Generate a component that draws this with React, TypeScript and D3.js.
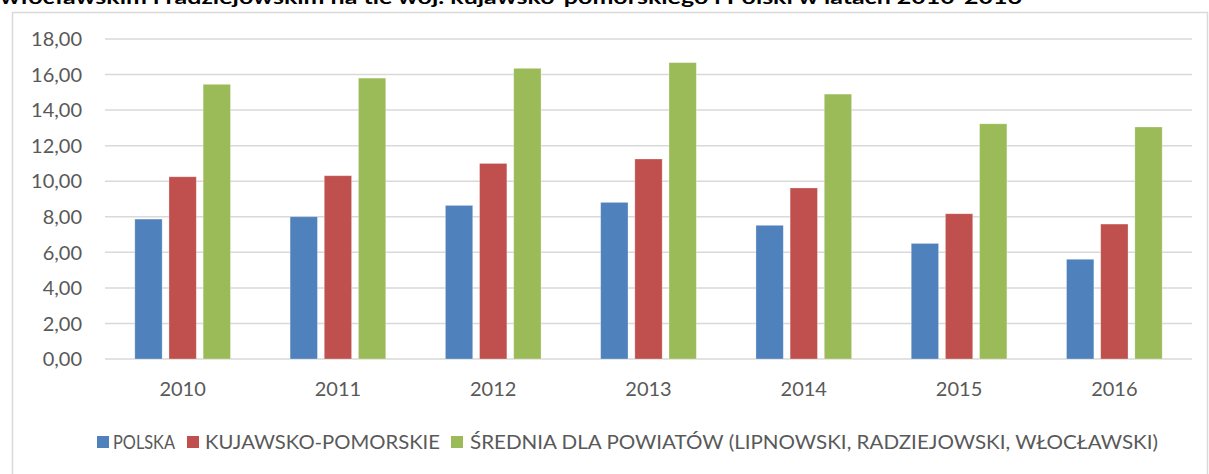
import React from "react";
import * as d3 from "d3";

const years = ["2010", "2011", "2012", "2013", "2014", "2015", "2016"];
const seriesNames = [
  "POLSKA",
  "KUJAWSKO-POMORSKIE",
  "ŚREDNIA DLA POWIATÓW (LIPNOWSKI, RADZIEJOWSKI, WŁOCŁAWSKI)",
];
const polska = [7.87, 8.0, 8.64, 8.81, 7.52, 6.5, 5.61];
const kujawsko = [10.25, 10.31, 11.0, 11.25, 9.62, 8.17, 7.59];
const srednia = [15.45, 15.8, 16.35, 16.67, 14.9, 13.23, 13.05];
const yTicks = [0, 2, 4, 6, 8, 10, 12, 14, 16, 18];
const colors = ["#4f81bd", "#c0504d", "#9bbb59"];
const titleText =
  "włocławskim i radziejowskim na tle woj. kujawsko-pomorskiego i Polski w latach 2010-2016";

const W = 1209;
const H = 474;
const FONT = "Lato, 'Open Sans', sans-serif";

export default function App() {
  const series = [polska, kujawsko, srednia];
  const x0 = d3
    .scaleBand<string>()
    .domain(years)
    .range([105, 1192])
    .paddingInner(0.384)
    .paddingOuter(0.192);
  const x1 = d3
    .scaleBand<number>()
    .domain([0, 1, 2])
    .range([0, x0.bandwidth()])
    .paddingInner(0.2);
  const y = d3.scaleLinear().domain([0, 18]).range([359, 39]);
  const fmt = (v: number) => v.toFixed(2).replace(".", ",");

  // legend layout
  const legendY = 442;
  const legendItems = [
    { sq: 97, tx: 113, len: 62 },
    { sq: 187, tx: 205, len: 235 },
    { sq: 451, tx: 470, len: 688 },
  ];

  return (
    <svg
      width={W}
      height={H}
      style={{ position: "absolute", left: 0, top: 0, background: "#fff" }}
      fontFamily={FONT}
    >
      <rect x={0} y={0} width={W} height={H} fill="#fff" />
      <text
        x={0}
        y={4}
        fontSize={19}
        fontWeight="bold"
        fill="#000"
        textLength={1022}
        lengthAdjust="spacingAndGlyphs"
      >
        {titleText}
      </text>
      <rect
        x={12.5}
        y={12.5}
        width={1195}
        height={480}
        fill="#fff"
        stroke="#d9d9d9"
        strokeWidth={1.5}
      />
      {yTicks.map((t) => (
        <g key={t}>
          <line
            x1={105}
            x2={1192}
            y1={y(t)}
            y2={y(t)}
            stroke="#d9d9d9"
            strokeWidth={1.5}
          />
          <text
            x={82}
            y={y(t)}
            dy="0.36em"
            textAnchor="end"
            fontSize={20}
            fill="#595959"
          >
            {fmt(t)}
          </text>
        </g>
      ))}
      {years.map((yr, i) => (
        <g key={yr} transform={`translate(${x0(yr)},0)`}>
          {series.map((s, k) => (
            <rect
              key={k}
              x={x1(k)}
              y={y(s[i])}
              width={x1.bandwidth()}
              height={y(0) - y(s[i])}
              fill={colors[k]}
              stroke="#fff"
              strokeOpacity={0.35}
              strokeWidth={0.8}
            />
          ))}
          <text
            x={x0.bandwidth() / 2}
            y={396}
            textAnchor="middle"
            fontSize={20}
            fill="#595959"
          >
            {yr}
          </text>
        </g>
      ))}
      {seriesNames.map((n, k) => (
        <g key={n}>
          <rect
            x={legendItems[k].sq}
            y={legendY - 6}
            width={12}
            height={12}
            fill={colors[k]}
          />
          <text
            x={legendItems[k].tx}
            y={legendY}
            dy="0.36em"
            fontSize={20}
            fill="#595959"
            textLength={legendItems[k].len}
            lengthAdjust="spacingAndGlyphs"
          >
            {n}
          </text>
        </g>
      ))}
    </svg>
  );
}
